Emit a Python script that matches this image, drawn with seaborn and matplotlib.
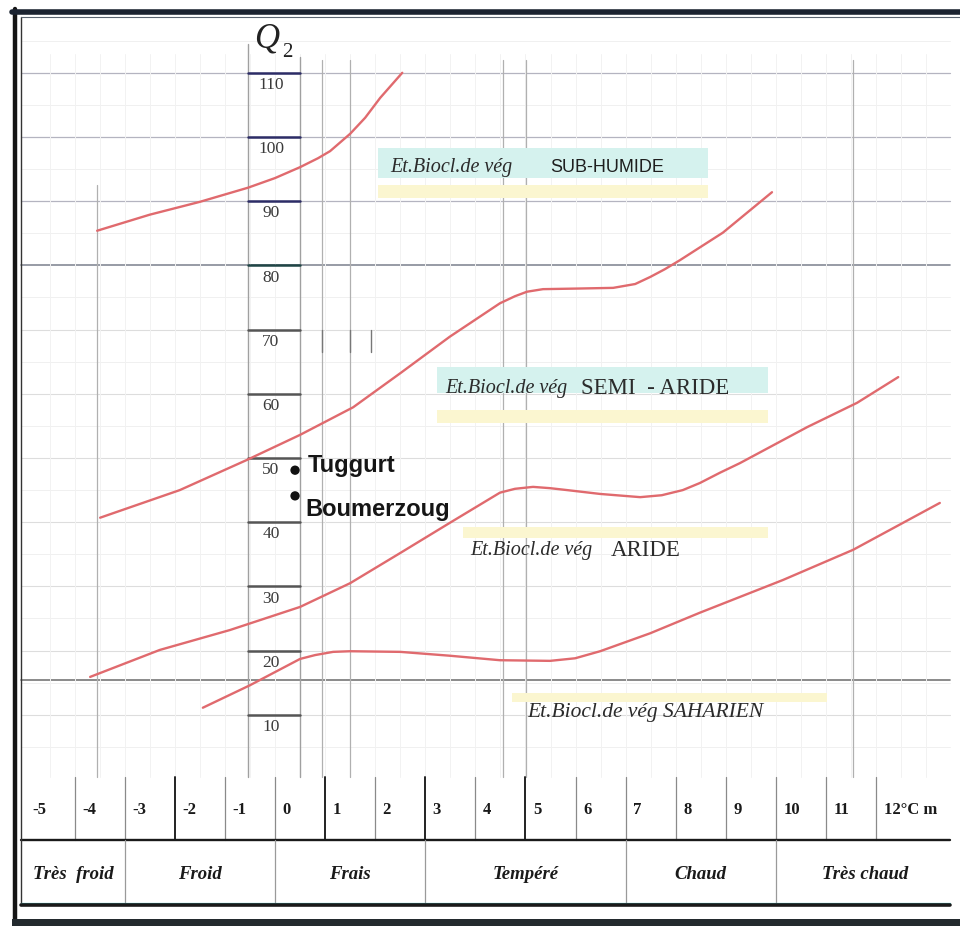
import matplotlib
matplotlib.use("Agg")
import matplotlib.pyplot as plt
import numpy as np
import pandas as pd
import seaborn as sns
from matplotlib.patches import Rectangle

# ---------------------------------------------------------------
# Emberger climagram : Q2 against m (mean minimum of the coldest month, °C)
# ---------------------------------------------------------------
q2_ticks = [10, 20, 30, 40, 50, 60, 70, 80, 90, 100, 110]

m_ticks = [-5, -4, -3, -2, -1, 0, 1, 2, 3, 4, 5, 6, 7, 8, 9, 10, 11, 12]
m_tick_labels = ["-5", "-4", "-3", "-2", "-1", "0", "1", "2", "3", "4", "5",
                 "6", "7", "8", "9", "10", "11", "12°C m"]

winter_classes = ["Très  froid", "Froid", "Frais", "Tempéré", "Chaud", "Très chaud"]
winter_bounds = [-5.07, -3, 0, 3, 7, 10, 13.55]

# limits between the bioclimatic stages
subhumid_m = [-3.55, -2.50, -1.50, -0.54, 0.00, 0.50, 0.86, 1.10, 1.50, 1.80,
              2.10, 2.54]
subhumid_q2 = [85.4, 87.9, 89.9, 92.1, 93.6, 95.3, 96.7, 97.8, 100.5, 103.0,
               106.1, 110.0]

semiarid_m = [-3.49, -1.90, -0.56, 0.50, 1.56, 2.50, 3.49, 4.49, 4.79, 5.03,
              5.35, 6.09, 6.75, 7.19, 7.49, 7.78, 8.08, 8.94, 9.92]
semiarid_q2 = [40.7, 45.0, 49.7, 53.6, 57.9, 63.2, 68.9, 74.1, 75.2, 75.9,
               76.3, 76.4, 76.5, 77.1, 78.2, 79.4, 80.8, 85.1, 91.4]

arid_m = [-3.69, -2.30, -0.90, 0.50, 1.50, 2.50, 3.49, 4.49, 4.79, 5.15,
          5.49, 5.83, 6.49, 7.29, 7.72, 8.14, 8.48, 8.88, 9.28, 10.62, 11.62,
          12.44]
arid_q2 = [15.9, 20.1, 23.2, 26.8, 30.5, 35.2, 39.9, 44.6, 45.2, 45.5,
           45.3, 45.0, 44.4, 43.9, 44.2, 45.0, 46.1, 47.7, 49.2, 54.8, 58.6,
           62.6]

saharan_m = [-1.44, -0.50, 0.50, 0.80, 1.16, 1.50, 2.50, 3.49, 4.49, 5.49,
             5.99, 6.49, 6.99, 7.49, 8.48, 10.14, 11.54, 13.27]
saharan_q2 = [11.1, 14.6, 18.7, 19.3, 19.8, 19.9, 19.8, 19.2, 18.5, 18.4,
              18.8, 19.9, 21.3, 22.7, 25.9, 31.0, 35.7, 43.0]

stations = ["Tuggurt", "Boumerzoug"]
station_m = [0.40, 0.40]
station_q2 = [48.1, 44.1]

limits = {
    "subhumid": (subhumid_m, subhumid_q2),
    "semiarid": (semiarid_m, semiarid_q2),
    "arid": (arid_m, arid_q2),
    "saharan": (saharan_m, saharan_q2),
}

# ---------------------------------------------------------------
sns.set_style("white")
SERIF = ["Liberation Serif", "DejaVu Serif"]
SANS = ["Liberation Sans", "DejaVu Sans"]
plt.rcParams["font.family"] = SERIF

fig = plt.figure(figsize=(9.6, 9.26), dpi=100)
ax = fig.add_axes([0, 0, 1, 1])
ax.set_xlim(-5.489, 13.673)
ax.set_ylim(-22.90, 121.34)
ax.axis("off")

X_LEFT, X_RIGHT = -5.07, 13.47

# --- background grid ------------------------------------------
for v in np.arange(5, 116, 10):
    ax.plot([X_LEFT, X_RIGHT], [v, v], color="#f0f0f0", lw=0.7, zorder=1)
for v in q2_ticks:
    c, lw = "#dddddd", 0.8
    if v >= 90:
        c, lw = "#b4b4c0", 0.9
    if v == 80:
        c, lw = "#858a96", 1.2
    ax.plot([X_LEFT, X_RIGHT], [v, v], color=c, lw=lw, zorder=1)
ax.plot([X_LEFT, X_RIGHT], [15.4, 15.4], color="#777777", lw=1.2, zorder=1)

for k in np.arange(-4.5, 13.5, 0.5):
    ax.plot([k, k], [0.3, 113], color="#f2f2f2", lw=0.7, zorder=1)
for k, top in [(-3.55, 92.5), (0.94, 112), (1.50, 112), (4.55, 112),
               (5.01, 112), (11.54, 112)]:
    ax.plot([k, k], [0.3, top], color="#b0b0b0", lw=0.9, zorder=1)
for k in [0.94, 1.5, 1.92]:
    ax.plot([k, k], [66.5, 70.0], color="#777777", lw=1.0, zorder=1)

# --- Q2 axis column ------------------------------------------
ax.plot([-0.54, -0.54], [0.3, 114.5], color="#a0a0a0", lw=1.0, zorder=2)
ax.plot([0.50, 0.50], [0.3, 112.5], color="#a0a0a0", lw=1.0, zorder=2)
for v in q2_ticks:
    c = "#2c2c66" if v > 80 else ("#1f4545" if v == 80 else "#555555")
    ax.plot([-0.54, 0.50], [v, v], color=c, lw=1.8, zorder=3)
    ax.text(-0.08, v - 1.9, str(v), ha="center", va="center", fontsize=12.5,
            family=SERIF, color="#3a3a3a", zorder=4)
ax.text(-0.16, 115.2, "Q", ha="center", va="center", fontsize=25,
        style="italic", family=SERIF, color="#222222")
ax.text(0.25, 113.1, "2", ha="center", va="center", fontsize=15,
        family=SERIF, color="#222222")

# --- stage bands and names -----------------------------------
CYAN, YELLOW = "#d5f2ee", "#fbf6d0"
bands = [
    (2.06, 8.64, 93.6, 98.3, CYAN), (2.06, 8.64, 90.5, 92.5, YELLOW),
    (3.23, 9.84, 60.1, 64.2, CYAN), (3.23, 9.84, 55.5, 57.5, YELLOW),
    (3.75, 9.84, 37.5, 39.25, YELLOW),
    (4.73, 11.02, 12.0, 13.4, YELLOW),
]
for x0, x1, y0, y1, col in bands:
    ax.add_patch(Rectangle((x0, y0), x1 - x0, y1 - y0, facecolor=col,
                           edgecolor="none", zorder=2))

ZFS = 14.5
UFS = 16.5
ax.text(2.30, 95.3, "Et.Biocl.de vég", ha="left", va="center", fontsize=ZFS,
        style="italic", family=SERIF, color="#2b2b2b", zorder=5)
ax.text(5.49, 95.3, "SUB-HUMIDE", ha="left", va="center", fontsize=13,
        family=SANS, color="#1e1e1e", zorder=5)
ax.text(3.40, 60.8, "Et.Biocl.de vég", ha="left", va="center", fontsize=ZFS,
        style="italic", family=SERIF, color="#2b2b2b", zorder=5)
ax.text(6.10, 60.8, "SEMI  - ARIDE", ha="left", va="center", fontsize=UFS,
        family=SERIF, color="#2b2b2b", zorder=5)
ax.text(3.89, 35.6, "Et.Biocl.de vég", ha="left", va="center", fontsize=ZFS,
        style="italic", family=SERIF, color="#2b2b2b", zorder=5)
ax.text(6.70, 35.6, "ARIDE", ha="left", va="center", fontsize=UFS,
        family=SERIF, color="#2b2b2b", zorder=5)
ax.text(5.03, 10.3, "Et.Biocl.de vég SAHARIEN", ha="left", va="center",
        fontsize=15.5, style="italic", family=SERIF, color="#2b2b2b", zorder=5)

# --- limit curves --------------------------------------------
for name, (mm, qq) in limits.items():
    df = pd.DataFrame({"m": mm, "Q2": qq})
    sns.lineplot(data=df, x="m", y="Q2", sort=False, estimator=None,
                 color="#e06a6e", lw=1.7, ax=ax, zorder=6)

# --- stations -------------------------------------------------
st = pd.DataFrame({"m": station_m, "Q2": station_q2, "station": stations})
sns.scatterplot(data=st, x="m", y="Q2", color="#111111", s=45,
                edgecolor="none", ax=ax, zorder=7, legend=False)
ax.text(0.66, 48.9, stations[0], ha="left", va="center", fontsize=17,
        weight="bold", family=SANS, color="#151515", zorder=7)
ax.text(0.60, 41.9, stations[1], ha="left", va="center", fontsize=17,
        weight="bold", family=SANS, color="#151515", zorder=7)
ax.set_xlabel("")
ax.set_ylabel("")

# --- temperature table ---------------------------------------
ROW1_TOP, ROW_SPLIT, ROW2_BOT = 0.3, -9.5, -19.6
for k in m_ticks[1:]:
    dark = k in (-2, 1, 3, 5)
    ax.plot([k, k], [ROW_SPLIT, ROW1_TOP], color="#222222" if dark else "#8a8a8a",
            lw=1.4 if dark else 0.9, zorder=3)
for k, lab in zip(m_ticks, m_tick_labels):
    ax.text(k + 0.15, -4.8, lab, ha="left", va="center", fontsize=12,
            weight="bold", family=SERIF, color="#1a1a1a")
ax.plot([X_LEFT, X_RIGHT], [ROW_SPLIT, ROW_SPLIT], color="#1a1a1a", lw=1.7, zorder=3)
for b in winter_bounds[1:-1]:
    ax.plot([b, b], [ROW2_BOT, ROW_SPLIT], color="#9a9a9a", lw=0.9, zorder=3)
for i, lab in enumerate(winter_classes):
    cx = 0.5 * (winter_bounds[i] + winter_bounds[i + 1])
    ax.text(cx, -14.9, lab, ha="center", va="center", fontsize=13.5,
            weight="bold", style="italic", family=SERIF, color="#1a1a1a")

# --- frame ----------------------------------------------------
ax.plot([-5.19, -5.19], [-22.9, 119.9], color="#151515", lw=3.2, zorder=8)
ax.plot([-5.07, -5.07], [-19.6, 118.7], color="#333333", lw=1.0, zorder=8)
ax.plot([-5.25, 13.673], [119.5, 119.5], color="#1b2330", lw=4.0, zorder=8)
ax.plot([-5.07, 13.673], [118.7, 118.7], color="#5a6470", lw=0.8, zorder=8)
ax.plot([-5.07, 13.47], [-19.25, -19.25], color="#57c9cc", lw=0.9, zorder=8)
ax.plot([-5.07, 13.47], [-19.7, -19.7], color="#1a1a1a", lw=2.6, zorder=8)
ax.add_patch(Rectangle((-5.25, -22.9), 18.95, 1.1, facecolor="#232a2e",
                       edgecolor="none", zorder=8))

fig.savefig("out.png", dpi=100)
